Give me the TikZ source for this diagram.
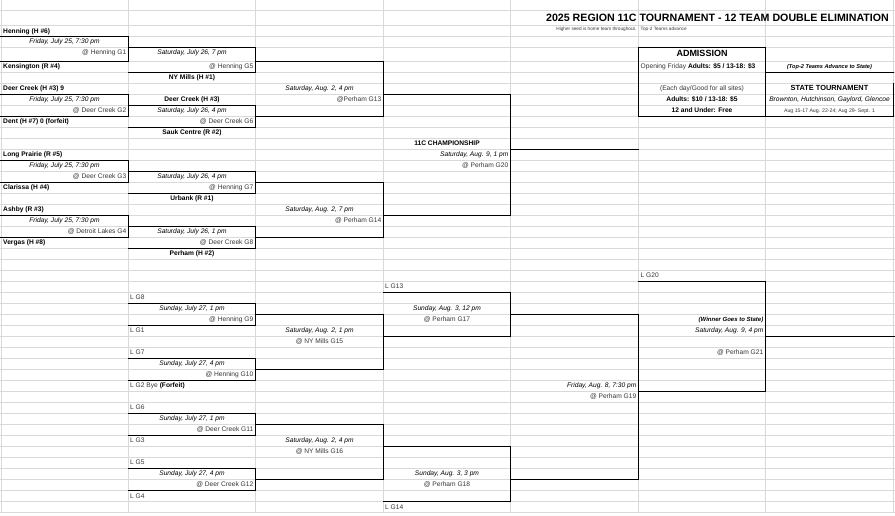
\documentclass[tikz,border=0pt]{standalone}
\usepackage{fontspec}
\setmainfont{Liberation Sans}
\definecolor{gridline}{RGB}{217, 217, 217}
\definecolor{softink}{RGB}{55, 55, 55}
\tikzset{
  cell/.style={inner sep=0pt, font=\fontsize{6.65}{7}\selectfont},
  team/.style={cell, anchor=base west, font=\fontsize{6.65}{7}\selectfont\bfseries},
  teammid/.style={cell, anchor=base, font=\fontsize{6.65}{7}\selectfont\bfseries},
  when/.style={cell, anchor=base, font=\fontsize{6.65}{7}\selectfont\itshape},
  whenright/.style={cell, anchor=base east, font=\fontsize{6.65}{7}\selectfont\itshape},
  site/.style={cell, anchor=base east, text=softink},
  sitemid/.style={cell, anchor=base, text=softink},
  loser/.style={cell, anchor=base west, text=softink},
  wee/.style={inner sep=0pt, font=\fontsize{4.7}{5}\selectfont, text=softink},
  bracket/.style={black, line width=0.9pt, line cap=rect},
}
\begin{document}
\begin{tikzpicture}[x=1pt, y=-1pt]
  \useasboundingbox (0,0) rectangle (895,516);
  \fill[white] (0,0) rectangle (895,516);
  % sheet grid
  \foreach \gx in {1, 128.5, 255.5, 383.5, 510.5, 638.5, 765.5, 893.5}
    \draw[gridline, line width=0.9pt] (\gx,0) -- (\gx,512.4);
  \foreach \gy in {10, 25, 36.3, 47.3}
    \draw[gridline, line width=0.9pt] (0,\gy) -- (895,\gy);
  \foreach \k in {0,...,41}
    \draw[gridline, line width=0.9pt] (0,{61+11.01*\k}) -- (895,{61+11.01*\k});

  % first round
  \draw[bracket] (0,36.3) -- (128.5,36.3) -- (128.5,61) -- (0,61);
  \draw[bracket] (0,94) -- (128.5,94) -- (128.5,116) -- (0,116);
  \draw[bracket] (0,160) -- (128.5,160) -- (128.5,182.2) -- (0,182.2);
  \draw[bracket] (0,215.1) -- (128.5,215.1) -- (128.5,237.2) -- (0,237.2);
  % second round
  \draw[bracket] (128.5,47.3) -- (255.5,47.3) -- (255.5,72) -- (128.5,72);
  \draw[bracket] (128.5,105) -- (255.5,105) -- (255.5,127) -- (128.5,127);
  \draw[bracket] (128.5,171.1) -- (255.5,171.1) -- (255.5,193.1) -- (128.5,193.1);
  \draw[bracket] (128.5,226.2) -- (255.5,226.2) -- (255.5,248.2) -- (128.5,248.2);
  % semi finals
  \draw[bracket] (255.5,61) -- (383.5,61) -- (383.5,116) -- (255.5,116);
  \draw[bracket] (255.5,182.2) -- (383.5,182.2) -- (383.5,237.2) -- (255.5,237.2);
  \draw[bracket] (383.5,94) -- (510.5,94) -- (510.5,215.1) -- (383.5,215.1);
  \draw[bracket] (510.5,149.1) -- (638.5,149.1);
  % losers side, sunday
  \draw[bracket] (128.5,303.2) -- (255.5,303.2) -- (255.5,325.3) -- (128.5,325.3);
  \draw[bracket] (128.5,358.3) -- (255.5,358.3) -- (255.5,380.3) -- (128.5,380.3);
  \draw[bracket] (128.5,413.4) -- (255.5,413.4) -- (255.5,435.4) -- (128.5,435.4);
  \draw[bracket] (128.5,468.4) -- (255.5,468.4) -- (255.5,490.4) -- (128.5,490.4);
  % losers side, later rounds
  \draw[bracket] (255.5,314.2) -- (383.5,314.2) -- (383.5,369.3) -- (255.5,369.3);
  \draw[bracket] (255.5,424.4) -- (383.5,424.4) -- (383.5,479.4) -- (255.5,479.4);
  \draw[bracket] (383.5,292.2) -- (510.5,292.2) -- (510.5,336.3) -- (383.5,336.3);
  \draw[bracket] (383.5,446.4) -- (510.5,446.4) -- (510.5,501.4) -- (383.5,501.4);
  \draw[bracket] (510.5,314.2) -- (638.5,314.2) -- (638.5,479.4) -- (510.5,479.4);
  \draw[bracket] (638.5,281.2) -- (765.5,281.2) -- (765.5,391.3) -- (638.5,391.3);
  \draw[bracket] (765.5,336.3) -- (895,336.3);
  % fee boxes
  \draw[bracket] (638.5,47.3) rectangle (765.5,116);
  \draw[bracket] (765.5,72) -- (893.5,72);
  \draw[bracket] (893.5,83) -- (893.5,116) -- (765.5,116);

  % heading
  \node[inner sep=0pt, anchor=base, font=\fontsize{10.65}{12}\selectfont\bfseries] (heading) at (717.5,21.8) {2025 REGION 11C TOURNAMENT - 12 TEAM DOUBLE ELIMINATION};
  \node[wee, anchor=base east] (seednote) at (636.5,31) {Higher seed is home team throughout.};
  \node[wee, anchor=base west] (advnote) at (640.5,31) {Top-2 Teams advance};

  % first column
  \node[team] (henning) at (3,34) {Henning (H \#6)};
  \node[when] (fri1) at (64.5,44) {Friday, July 25, 7:30 pm};
  \node[site] (g1) at (126.5,55) {@ Henning G1};
  \foreach \tname/\tlab/\k in {kensington/Kensington (R \#4)/1, deercreek/Deer Creek (H \#3) 9/3,
      dent/Dent (H \#7) 0 (forfeit)/6, longprairie/Long Prairie (R \#5)/9, clarissa/Clarissa (H \#4)/12,
      ashby/Ashby (R \#3)/14, vergas/Vergas (H \#8)/17}
    \node[team] (\tname) at (3,{57.6+11.01*\k}) {\tlab};
  \foreach \tname/\k in {fri2/4, fri3/10, fri4/15}
    \node[when] (\tname) at (64.5,{57.6+11.01*\k}) {Friday, July 25, 7:30 pm};
  \foreach \tname/\tlab/\k in {g2/@ Deer Creek G2/5, g3/@ Deer Creek G3/11, g4/@ Detroit Lakes G4/16}
    \node[site] (\tname) at (126.5,{57.6+11.01*\k}) {\tlab};

  % second column
  \node[when] (sat5) at (192,55) {Saturday, July 26, 7 pm};
  \foreach \tname/\tlab/\k in {sat6/{Saturday, July 26, 4 pm}/5, sat7/{Saturday, July 26, 4 pm}/11, sat8/{Saturday, July 26, 1 pm}/16,
      sun9/{Sunday, July 27, 1 pm}/23, sun10/{Sunday, July 27, 4 pm}/28, sun11/{Sunday, July 27, 1 pm}/33, sun12/{Sunday, July 27, 4 pm}/38}
    \node[when] (\tname) at (192,{57.6+11.01*\k}) {\tlab};
  \foreach \tname/\tlab/\k in {g5/@ Henning G5/1, g6/@ Deer Creek G6/6, g7/@ Henning G7/12, g8/@ Deer Creek G8/17,
      g9/@ Henning G9/24, g10/@ Henning G10/29, g11/@ Deer Creek G11/34, g12/@ Deer Creek G12/39}
    \node[site] (\tname) at (253.5,{57.6+11.01*\k}) {\tlab};
  \foreach \tname/\tlab/\k in {nymills/NY Mills (H \#1)/2, deercreekb/Deer Creek (H \#3)/4, saukcentre/Sauk Centre (R \#2)/7,
      urbank/Urbank (R \#1)/13, perham/Perham (H \#2)/18}
    \node[teammid] (\tname) at (192,{57.6+11.01*\k}) {\tlab};
  \foreach \tname/\tlab/\k in {lg8/L G8/22, lg1/L G1/25, lg7/L G7/27, lg6/L G6/32, lg3/L G3/35, lg5/L G5/37, lg4/L G4/40}
    \node[loser] (\tname) at (130,{57.6+11.01*\k}) {\tlab};
  \node[loser] (lg2) at (130,{57.6+11.01*30}) {L G2 Bye \textcolor{black}{\bfseries (Forfeit)}};

  % third column
  \foreach \tname/\tlab/\k in {sat13/{Saturday, Aug. 2, 4 pm}/3, sat14/{Saturday, Aug. 2, 7 pm}/14,
      sat15/{Saturday, Aug. 2, 1 pm}/25, sat16/{Saturday, Aug. 2, 4 pm}/35}
    \node[when] (\tname) at (319.5,{57.6+11.01*\k}) {\tlab};
  \node[site] (g13) at (381.5,{57.6+11.01*4}) {@Perham G13};
  \node[site] (g14) at (381.5,{57.6+11.01*15}) {@ Perham G14};
  \node[sitemid] (g15) at (319.5,{57.6+11.01*26}) {@ NY Mills G15};
  \node[sitemid] (g16) at (319.5,{57.6+11.01*36}) {@ NY Mills G16};

  % fourth column
  \node[teammid] (champ) at (447,{57.6+11.01*8}) {11C CHAMPIONSHIP};
  \node[whenright] (sat20) at (508.5,{57.6+11.01*9}) {Saturday, Aug. 9, 1 pm};
  \node[site] (g20) at (508.5,{57.6+11.01*10}) {@ Perham G20};
  \node[loser] (lg13) at (385,{57.6+11.01*21}) {L G13};
  \node[when] (sun17) at (447,{57.6+11.01*23}) {Sunday, Aug. 3, 12 pm};
  \node[sitemid] (g17) at (447,{57.6+11.01*24}) {@ Perham G17};
  \node[when] (sun18) at (447,{57.6+11.01*38}) {Sunday, Aug. 3, 3 pm};
  \node[sitemid] (g18) at (447,{57.6+11.01*39}) {@ Perham G18};
  \node[loser] (lg14) at (385,{57.6+11.01*41}) {L G14};

  % fifth and sixth column
  \node[whenright] (fri19) at (636.5,{57.6+11.01*30}) {Friday, Aug. 8, 7:30 pm};
  \node[site] (g19) at (636.5,{57.6+11.01*31}) {@ Perham G19};
  \node[loser] (lg20) at (640.5,{57.6+11.01*20}) {L G20};
  \node[whenright, font=\fontsize{6}{6}\selectfont\bfseries\itshape] (winner) at (763.5,{57.6+11.01*24}) {(Winner Goes to State)};
  \node[whenright] (sat21) at (763.5,{57.6+11.01*25}) {Saturday, Aug. 9, 4 pm};
  \node[site] (g21) at (763.5,{57.6+11.01*27}) {@ Perham G21};

  % admission
  \node[cell, anchor=base, font=\fontsize{9}{9}\selectfont\bfseries] (admission) at (702,56.5) {ADMISSION};
  \node[cell, anchor=base west] (opening) at (640.5,{57.6+11.01*1}) {\textcolor{softink}{Opening Friday} \textbf{Adults: \$5 / 13-18: \$3}};
  \node[cell, anchor=base, text=softink] (eachday) at (702,{57.6+11.01*3}) {(Each day/Good for all sites)};
  \node[teammid] (adults) at (702,{57.6+11.01*4}) {Adults: \$10 / 13-18: \$5};
  \node[teammid] (under) at (702,{57.6+11.01*5}) {12 and Under: Free};

  % state tournament
  \node[cell, anchor=base, font=\fontsize{5.6}{6}\selectfont\bfseries\itshape] (topteams) at (829.5,{57.6+11.01*1}) {(Top-2 Teams Advance to State)};
  \node[teammid, font=\fontsize{7.4}{8}\selectfont\bfseries] (state) at (829.5,{57.6+11.01*3}) {STATE TOURNAMENT};
  \node[when] (towns) at (829.5,{57.6+11.01*4}) {Brownton, Hutchinson, Gaylord, Glencoe};
  \node[wee, anchor=base, font=\fontsize{5.2}{6}\selectfont] (dates) at (829.5,{57.6+11.01*5}) {Aug 15-17 Aug. 22-24; Aug 29- Sept. 1};
\end{tikzpicture}
\end{document}
